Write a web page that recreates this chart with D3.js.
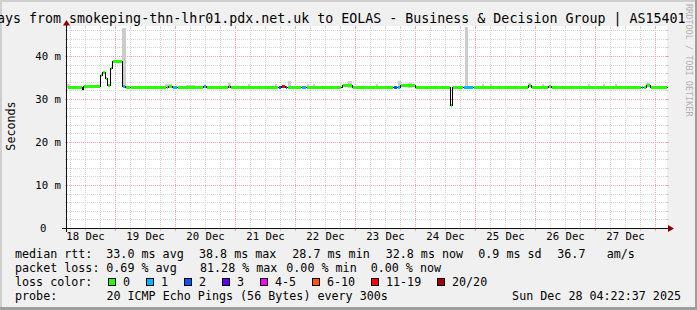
<!DOCTYPE html>
<html><head><meta charset="utf-8">
<script src="https://cdn.jsdelivr.net/npm/d3@7"></script>
<style>
html,body{margin:0;padding:0;background:#f0f0f0;overflow:hidden;}
svg{display:block;}
text{font-family:"DejaVu Sans Mono",monospace;white-space:pre;}
</style></head><body>
<svg id="c" width="697" height="310"></svg>
<script>
// ---------------- data ----------------
const titleText = "Last 10 Days from smokeping-thn-lhr01.pdx.net.uk to EOLAS - Business & Decision Group | AS15401";
const yAxisTitle = "Seconds";
const watermark = "RRDTOOL / TOBI OETIKER";
const baseDay = new Date(2025, 11, 18, 0, 0, 0);
const startTime = new Date(2025, 11, 18, 4, 22, 37);
const endTime = new Date(2025, 11, 28, 4, 22, 37);
const dayLabels = ["18 Dec","19 Dec","20 Dec","21 Dec","22 Dec","23 Dec","24 Dec","25 Dec","26 Dec","27 Dec"];
const yTicks = [0, 10, 20, 30, 40];
const yTickLabels = ["0", "10 m", "20 m", "30 m", "40 m"];

// median RTT samples: start hour (since 18 Dec 00:00), value in ms, loss class index
const sampleHours = [4.38,10.4,10.9,17.7,18.6,19.7,20.5,21.7,22.6,26.7,27.9,29.7,44.1,44.9,46.7,48.5,58.9,60.1,68.9,69.9,88.9,90.3,91.8,92.6,98.1,100.0,114.1,114.7,118.4,134.9,136.4,137.7,143.7,157.8,158.6,163.0,167.0,188.9,190.1,196.9,198.1,234.3,235.1,236.3,237.7];
const medianMs = [32.7,32.3,33.0,35.6,36.2,34.8,33.2,37.2,38.8,33.1,32.7,32.9,32.7,33.1,32.7,32.7,33.1,32.7,33.1,32.8,32.7,33.0,32.8,32.9,32.7,32.8,32.8,33.3,32.7,32.7,32.7,33.2,32.7,28.7,32.8,32.8,32.8,33.2,32.8,33.0,32.8,32.8,32.8,33.3,32.8];
const lossClass = [0,0,0,0,0,0,0,0,0,1,0,0,0,0,1,0,1,0,0,0,2,6,2,0,1,0,2,0,0,2,1,0,0,0,0,1,0,0,0,0,0,1,0,0,0];

// smoke (ping spread) patches
const smokeStart = [4.4,10.4,26.4,43.6,52.0,68.8,76.8,87.6,92.8,100.4,102.8,116.8,128.2,137.0,141.0,163.7,170.4,173.6,189.0,194.4,212.8,218.8,223.6,236.2];
const smokeEnd   = [5.6,11.2,28.0,46.6,55.6,70.0,77.6,88.4,94.0,101.2,103.6,118.4,129.0,138.2,142.6,164.9,171.2,174.4,190.2,195.2,213.6,219.6,224.4,237.8];
const smokeLo    = [32.7,32.0,33.0,32.7,32.7,32.8,32.8,32.8,32.8,32.8,32.8,32.7,32.8,32.7,32.7,32.8,32.8,32.8,32.8,32.8,32.8,32.8,32.8,32.8];
const smokeHi    = [33.6,32.8,46.6,33.6,33.4,33.8,33.5,33.5,34.2,33.5,33.5,34.4,33.5,34.4,33.8,46.9,33.5,33.5,33.8,33.5,33.5,33.5,33.5,33.8];

const lossLabels = ["0","1","2","3","4-5","6-10","11-19","20/20"];
const lossColors = ["#26ff00","#00b8ff","#0059ff","#5e00ff","#ff00ff","#ff5500","#ff0000","#a10000"];

const legendLine1 = ["median rtt:","33.0 ms avg","38.8 ms max","28.7 ms min","32.8 ms now","0.9 ms sd","36.7","am/s"];
const legendLine2 = ["packet loss:","0.69 % avg","81.28 % max","0.00 % min","0.00 % now"];
const lossColorLabel = "loss color:";
const probeLabel = "probe:";
const probeText = "20 ICMP Echo Pings (56 Bytes) every 300s";
const dateText = "Sun Dec 28 04:22:37 2025";

// ---------------- layout ----------------
const line1X = [15, 106.3, 199, 292.3, 385.7, 478.3, 557.3, 606.7];
const line2X = [15, 106.3, 200, 286.3, 370.7];

// ---------------- drawing ----------------
const W = 697, H = 310;
const svg = d3.select("#c");
const hourToDate = h => new Date(baseDay.getTime() + h * 3600e3);
const snap = v => Math.floor(v) + 0.5;

const x = d3.scaleTime().domain([startTime, endTime]).range([66.5, 666.5]);
const y = d3.scaleLinear().domain([0, 47.1]).range([228.5, 26]);

// frame
svg.append("rect").attr("x",0).attr("y",0).attr("width",W).attr("height",H).attr("fill","#f0f0f0");
svg.append("rect").attr("x",0).attr("y",0).attr("width",W).attr("height",2).attr("fill","#cfcfcf");
svg.append("rect").attr("x",0).attr("y",0).attr("width",2).attr("height",H).attr("fill","#cfcfcf");
svg.append("rect").attr("x",0).attr("y",H-3).attr("width",W).attr("height",3).attr("fill","#9e9e9e");
svg.append("rect").attr("x",W-2).attr("y",0).attr("width",2).attr("height",H).attr("fill","#9e9e9e");

// canvas
const PL = 67, PR = 667, PT = 26, PB = 229;
svg.append("rect").attr("x",PL).attr("y",PT).attr("width",PR-PL).attr("height",PB-PT).attr("fill","#ffffff");

const grid = svg.append("g").attr("shape-rendering","crispEdges");
d3.timeHour.every(6).range(startTime, endTime).forEach(t => {
  const xx = snap(x(t));
  const major = t.getHours() === 0;
  const col = major ? "#f2a3a3" : "#d4d4d4";
  grid.append("line").attr("x1",xx).attr("x2",xx).attr("y1",PT).attr("y2",PB)
    .attr("stroke",col).attr("stroke-dasharray","1,1");
  grid.append("line").attr("x1",xx).attr("x2",xx).attr("y1",PT).attr("y2",PT+2).attr("stroke",col);
  grid.append("line").attr("x1",xx).attr("x2",xx).attr("y1",PB-1).attr("y2",PB+2).attr("stroke",col);
});
d3.range(2, 47, 2).forEach(v => {
  const yy = snap(y(v));
  const major = v % 10 === 0;
  const col = major ? "#f2a3a3" : "#d4d4d4";
  grid.append("line").attr("x1",PL).attr("x2",PR).attr("y1",yy).attr("y2",yy)
    .attr("stroke",col).attr("stroke-dasharray","1,1");
  grid.append("line").attr("x1",PL-2).attr("x2",PL+1).attr("y1",yy).attr("y2",yy).attr("stroke",col);
  grid.append("line").attr("x1",PR-1).attr("x2",PR+2).attr("y1",yy).attr("y2",yy).attr("stroke",col);
});

// smoke
const smoke = svg.append("g").attr("shape-rendering","crispEdges");
smokeStart.forEach((s, i) => {
  const x1 = Math.round(x(hourToDate(s))), x2 = Math.round(x(hourToDate(smokeEnd[i])));
  const y1 = Math.round(y(smokeHi[i])), y2 = Math.round(y(smokeLo[i]));
  smoke.append("rect").attr("x",x1).attr("y",y1).attr("width",Math.max(1,x2-x1)).attr("height",Math.max(1,y2-y1))
    .attr("fill","#cccccc");
});

// median step line (black)
const pts = sampleHours.map((h, i) => [x(hourToDate(h)), snap(y(medianMs[i]))]);
pts.push([x(endTime), snap(y(medianMs[medianMs.length-1]))]);
svg.append("path").attr("d", d3.line().curve(d3.curveStepAfter)(pts.map(p => [Math.round(p[0])+0.5, p[1]])))
  .attr("fill","none").attr("stroke","#000").attr("stroke-width",1).attr("shape-rendering","crispEdges");

// colored median segments by loss
const segs = svg.append("g").attr("shape-rendering","crispEdges");
sampleHours.forEach((h, i) => {
  const x1 = Math.round(x(hourToDate(h)));
  const x2 = Math.round(i < sampleHours.length-1 ? x(hourToDate(sampleHours[i+1])) : x(endTime));
  const yy = snap(y(medianMs[i]));
  segs.append("line").attr("x1",x1+1).attr("x2",x2).attr("y1",yy).attr("y2",yy)
    .attr("stroke",lossColors[lossClass[i]]).attr("stroke-width",3);
});

// axes
const ax = svg.append("g").attr("shape-rendering","crispEdges");
ax.append("line").attr("x1",62).attr("x2",669).attr("y1",228.5).attr("y2",228.5).attr("stroke","#111");
ax.append("line").attr("x1",66.5).attr("x2",66.5).attr("y1",25).attr("y2",232).attr("stroke","#111");
svg.append("path").attr("d","M668,225 L674,228.5 L668,232 Z").attr("fill","#8b0000");
svg.append("path").attr("d","M63,25.5 L66.5,20 L70,25.5 Z").attr("fill","#8b0000");

// y tick labels
yTicks.forEach((v, i) => {
  const lab = yTickLabels[i];
  svg.append("text").attr("x", lab.length > 1 ? 61 : 46.5).attr("y", snap(y(v)) + 3.8)
    .attr("text-anchor","end").attr("font-size","10.67px").attr("fill","#000").text(lab);
});
// x day labels at noon
dayLabels.forEach((lab, i) => {
  const t = new Date(baseDay.getTime() + (i * 24 + 12) * 3600e3);
  svg.append("text").attr("x", snap(x(t))).attr("y", 239.5)
    .attr("text-anchor","middle").attr("font-size","10.67px").attr("fill","#000").text(lab);
});

// titles
svg.append("text").attr("x",685.5).attr("y",22.5).attr("text-anchor","end")
  .attr("font-size","13.3px").attr("fill","#000").text(titleText);
svg.append("text").attr("transform","translate(14.5,126) rotate(-90)").attr("text-anchor","middle")
  .attr("font-size","11.7px").attr("fill","#000").text(yAxisTitle);
svg.append("text").attr("transform","translate(685.5,4) rotate(90)").attr("text-anchor","start")
  .attr("font-size","8.5px").attr("fill","#b0b0b0").text(watermark);

// legend
const CW = 7.03, LX = 15;
const legendRow = (items, xs, yy) => items.forEach((t, i) =>
  svg.append("text").attr("x", xs[i]).attr("y", yy).attr("font-size","11.7px").attr("fill","#000").text(t));
legendRow(legendLine1, line1X, 258);
legendRow(legendLine2, line2X, 272);
legendRow([lossColorLabel], [LX], 286);
let bx = 108.5;
lossLabels.forEach((lab, i) => {
  svg.append("rect").attr("x",bx).attr("y",278.5).attr("width",7).attr("height",7)
    .attr("fill",lossColors[i]).attr("stroke","#000").attr("stroke-width",1).attr("shape-rendering","crispEdges");
  svg.append("text").attr("x",bx+14.5).attr("y",286).attr("font-size","11.7px").attr("fill","#000").text(lab);
  bx = Math.round(bx + 14.5 + lab.length * CW + 15.5) + 0.5;
});
legendRow([probeLabel, probeText], [LX, LX + 13 * CW], 300);
svg.append("text").attr("x",681).attr("y",300).attr("text-anchor","end").attr("font-size","11.7px").attr("fill","#000").text(dateText);
</script>
</body></html>
